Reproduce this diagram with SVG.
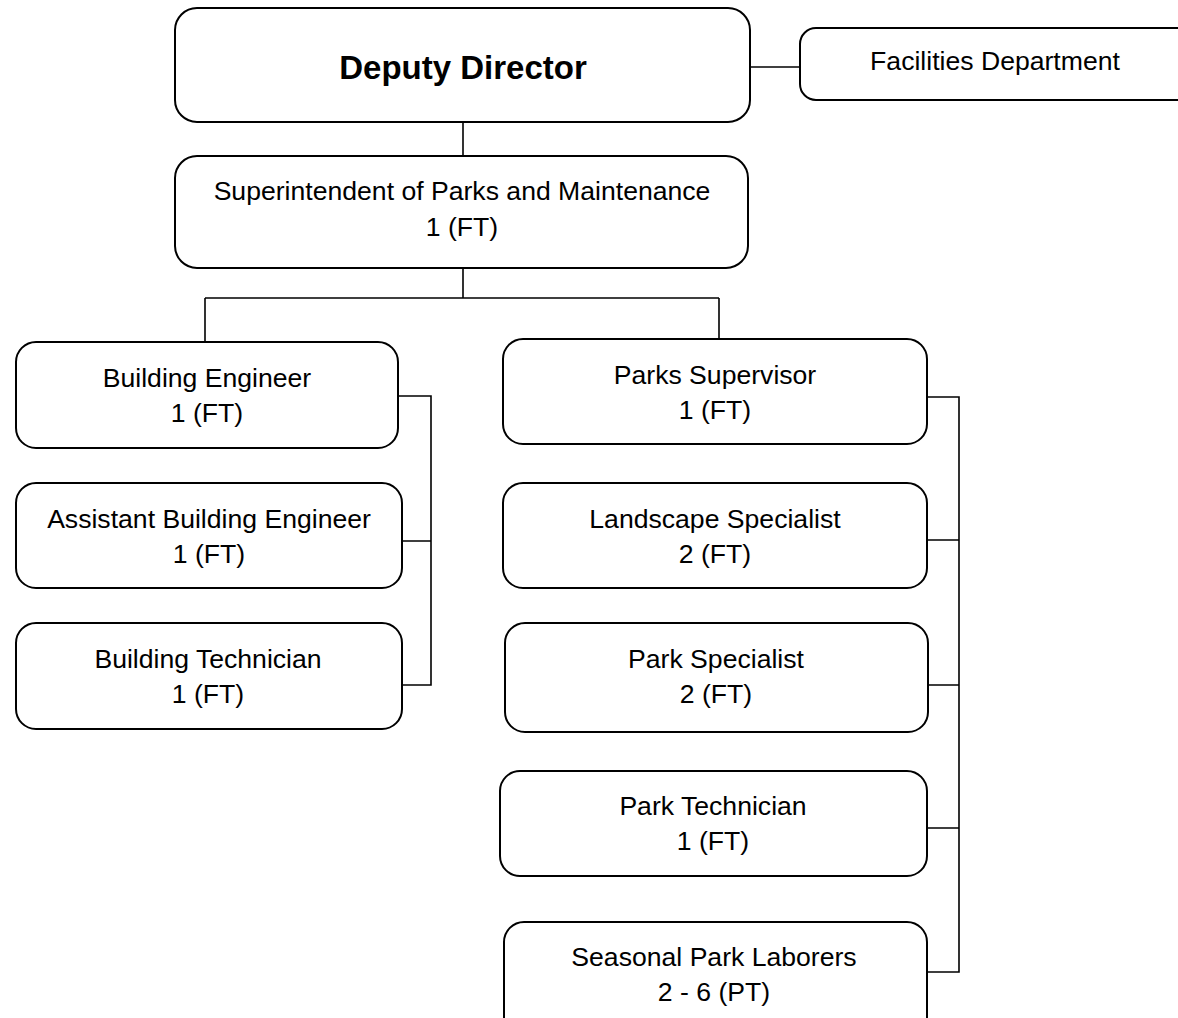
<svg xmlns="http://www.w3.org/2000/svg" width="1178" height="1018" viewBox="0 0 1178 1018">
<style>
.box{fill:#fff;stroke:#000;stroke-width:2}
.t{font-family:"Liberation Sans",Arial,sans-serif;font-size:26.6px;fill:#000;text-anchor:middle}
.b{font-weight:bold;font-size:33px}
.c{fill:none;stroke:#000;stroke-width:1.6}
</style>
<rect width="1178" height="1018" fill="#fff"/>
<g id="connectors">
<path class="c" d="M750,67H800"/>
<path class="c" d="M463,122V156"/>
<path class="c" d="M463,268V298M205,298H719M205,298V342M719,298V340"/>
<path class="c" d="M398,396H431V685H402M402,541H431"/>
<path class="c" d="M927,397H959V972H927M927,540H959M928,685H959M927,828H959"/>
</g>
<g id="deputy"><rect class="box" x="175" y="8" width="575" height="114" rx="22"/><text class="t b" x="463" y="79">Deputy Director</text></g>
<g id="facilities"><rect class="box" x="800" y="28" width="400" height="72" rx="16"/><text class="t" x="995" y="70">Facilities Department</text></g>
<g id="superintendent"><rect class="box" x="175" y="156" width="573" height="112" rx="22"/><text class="t" x="462" y="200">Superintendent of Parks and Maintenance</text><text class="t" x="462" y="236">1 (FT)</text></g>
<g id="building-engineer"><rect class="box" x="16" y="342" width="382" height="106" rx="20"/><text class="t" x="207" y="387">Building Engineer</text><text class="t" x="207" y="422">1 (FT)</text></g>
<g id="assistant-building-engineer"><rect class="box" x="16" y="483" width="386" height="105" rx="20"/><text class="t" x="209" y="528">Assistant Building Engineer</text><text class="t" x="209" y="563">1 (FT)</text></g>
<g id="building-technician"><rect class="box" x="16" y="623" width="386" height="106" rx="20"/><text class="t" x="208" y="668">Building Technician</text><text class="t" x="208" y="703">1 (FT)</text></g>
<g id="parks-supervisor"><rect class="box" x="503" y="339" width="424" height="105" rx="20"/><text class="t" x="715" y="384">Parks Supervisor</text><text class="t" x="715" y="419">1 (FT)</text></g>
<g id="landscape-specialist"><rect class="box" x="503" y="483" width="424" height="105" rx="20"/><text class="t" x="715" y="528">Landscape Specialist</text><text class="t" x="715" y="563">2 (FT)</text></g>
<g id="park-specialist"><rect class="box" x="505" y="623" width="423" height="109" rx="20"/><text class="t" x="716" y="668">Park Specialist</text><text class="t" x="716" y="703">2 (FT)</text></g>
<g id="park-technician"><rect class="box" x="500" y="771" width="427" height="105" rx="20"/><text class="t" x="713" y="815">Park Technician</text><text class="t" x="713" y="850">1 (FT)</text></g>
<g id="seasonal-park-laborers"><rect class="box" x="504" y="922" width="423" height="120" rx="20"/><text class="t" x="714" y="966">Seasonal Park Laborers</text><text class="t" x="714" y="1001">2 - 6 (PT)</text></g>
</svg>
